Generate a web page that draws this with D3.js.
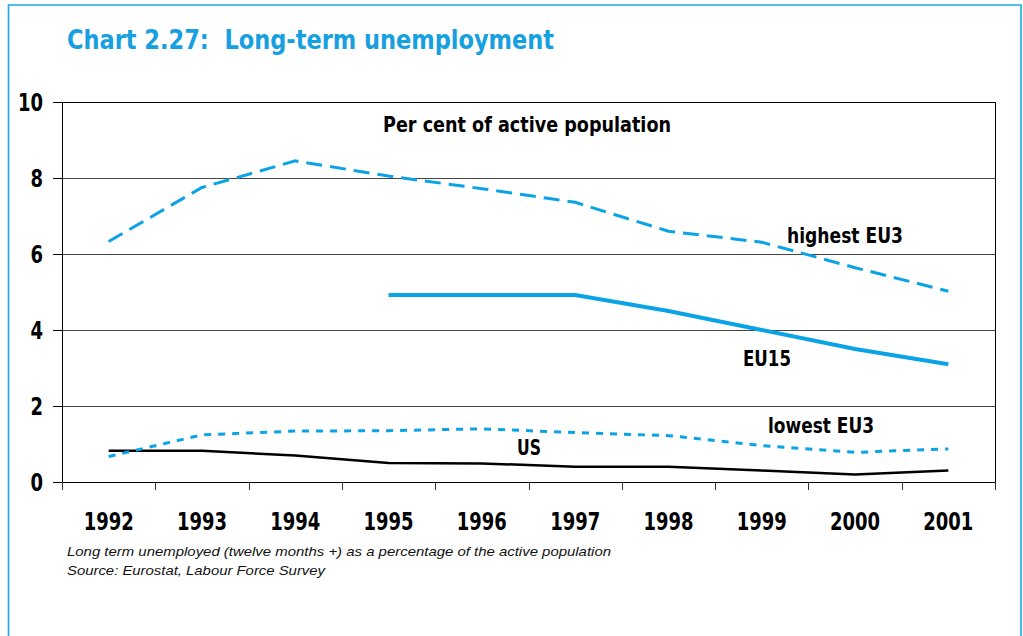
<!DOCTYPE html>
<html>
<head>
<meta charset="utf-8">
<script src="https://cdn.jsdelivr.net/npm/d3@7"></script>
<style>
  body { margin: 0; background: #fff; }
  svg { display: block; }
  .cond { font-family: "Liberation Sans Narrow", "DejaVu Sans Condensed", "Arial Narrow", sans-serif; font-weight: bold; }
  .foot { font-family: "Liberation Sans", Arial, sans-serif; font-style: italic; font-size: 13px; fill: #111; }
</style>
</head>
<body>
<div id="chart"></div>
<script>
// chart data
const years = ["1992", "1993", "1994", "1995", "1996", "1997", "1998", "1999", "2000", "2001"]
const highestEU3 = [6.33, 7.75, 8.45, 8.05, 7.72, 7.36, 6.6, 6.31, 5.64, 5.02]
const eu15 = [null, null, null, 4.92, 4.92, 4.92, 4.5, 4.0, 3.5, 3.1]
const lowestEU3 = [0.67, 1.24, 1.34, 1.35, 1.4, 1.3, 1.22, 0.96, 0.78, 0.87]
const us = [0.82, 0.82, 0.7, 0.5, 0.49, 0.4, 0.4, 0.3, 0.2, 0.3]
const yTicks = [0, 2, 4, 6, 8, 10]

const blue = "#0aa3e6"
const W = 1023, H = 636

const svg = d3.select("#chart").append("svg")
  .attr("width", W)
  .attr("height", H)

// outer frame (open at the bottom, runs off the page)
svg.append("path")
  .attr("d", "M8.5,640 V5 H1021 V640")
  .attr("fill", "none")
  .attr("stroke", "#1aa6ea")
  .attr("stroke-width", 1.6)

svg.append("text")
  .attr("class", "cond")
  .attr("x", 67).attr("y", 49)
  .attr("fill", "#16a0e0")
  .attr("font-size", 27)
  .attr("textLength", 487)
  .attr("lengthAdjust", "spacingAndGlyphs")
  .style("white-space", "pre")
  .text("Chart 2.27:  Long-term unemployment")

// plot area
const plotL = 62, plotR = 995, plotT = 102, plotB = 482

const x = d3.scaleBand().domain(years).range([plotL, plotR]).paddingInner(0).paddingOuter(0)
const xEdge = d3.scaleLinear().domain([0, years.length]).range([plotL, plotR])
const y = d3.scaleLinear().domain([0, 10]).range([plotB, plotT])
const cx = d => x(d) + x.bandwidth() / 2

// gridlines
svg.append("g").selectAll("line")
  .data(yTicks.filter(d => d > 0))
  .enter().append("line")
  .attr("x1", plotL).attr("x2", plotR)
  .attr("y1", d => y(d)).attr("y2", d => y(d))
  .attr("stroke", d => d == 10 ? "#000" : "#444")
  .attr("stroke-width", 1)
  .attr("shape-rendering", "crispEdges")

svg.append("line")
  .attr("x1", plotR).attr("x2", plotR)
  .attr("y1", plotT).attr("y2", plotB)
  .attr("stroke", "#000")
  .attr("shape-rendering", "crispEdges")

// y axis
const yAxis = svg.append("g")
  .attr("transform", "translate(" + plotL + ",0)")
  .call(d3.axisLeft(y).tickValues(yTicks).tickSize(9).tickPadding(10).tickSizeOuter(0))
yAxis.select(".domain").attr("stroke", "#000")
yAxis.selectAll("line").attr("stroke", "#000").attr("shape-rendering", "crispEdges")
yAxis.selectAll("text")
  .attr("class", "cond")
  .attr("font-size", 25)
  .attr("fill", "#000")
  .attr("dy", "0.34em")
  .attr("textLength", d => String(d).length * 12.5)
  .attr("lengthAdjust", "spacingAndGlyphs")

// x axis: ticks at category edges, labels at centres
const xTickAxis = svg.append("g")
  .attr("transform", "translate(0," + plotB + ")")
  .call(d3.axisBottom(xEdge).tickValues(d3.range(years.length + 1)).tickFormat("").tickSize(8).tickSizeOuter(0))
xTickAxis.select(".domain").attr("stroke", "#000")
xTickAxis.selectAll("line").attr("stroke", "#333").attr("shape-rendering", "crispEdges")

const xLab = svg.append("g")
  .attr("transform", "translate(0," + plotB + ")")
  .call(d3.axisBottom(x).tickSize(0))
xLab.select(".domain").remove()
xLab.selectAll("text")
  .attr("class", "cond")
  .attr("font-size", 25)
  .attr("fill", "#000")
  .attr("y", 48)
  .attr("dy", 0)
  .attr("textLength", 50)
  .attr("lengthAdjust", "spacingAndGlyphs")

// series
const line = d3.line()
  .defined(d => d[1] != null)
  .x(d => cx(d[0]))
  .y(d => y(d[1]))

const pairs = vals => years.map((yr, i) => [yr, vals[i]])

svg.append("path").datum(pairs(us))
  .attr("d", line).attr("fill", "none")
  .attr("stroke", "#000").attr("stroke-width", 2.5)

svg.append("path").datum(pairs(lowestEU3))
  .attr("d", line).attr("fill", "none")
  .attr("stroke", blue).attr("stroke-width", 3)
  .attr("stroke-dasharray", "7,7")

svg.append("path").datum(pairs(eu15))
  .attr("d", line).attr("fill", "none")
  .attr("stroke", blue).attr("stroke-width", 4)

svg.append("path").datum(pairs(highestEU3))
  .attr("d", line).attr("fill", "none")
  .attr("stroke", blue).attr("stroke-width", 3)
  .attr("stroke-dasharray", "16,8")

// in-chart labels
const labels = [
  { t: "Per cent of active population", x: 383, y: 132, w: 288 },
  { t: "highest EU3", x: 787, y: 243, w: 116 },
  { t: "EU15", x: 743, y: 366, w: 48 },
  { t: "lowest EU3", x: 768, y: 433, w: 106 },
  { t: "US", x: 517, y: 455, w: 24 }
]
svg.append("g").selectAll("text")
  .data(labels)
  .enter().append("text")
  .attr("class", "cond")
  .attr("font-size", 21)
  .attr("fill", "#000")
  .attr("x", d => d.x).attr("y", d => d.y)
  .attr("textLength", d => d.w)
  .attr("lengthAdjust", "spacingAndGlyphs")
  .text(d => d.t)

// footnote
svg.append("text").attr("class", "foot")
  .attr("x", 67).attr("y", 556)
  .attr("textLength", 544).attr("lengthAdjust", "spacingAndGlyphs")
  .text("Long term unemployed (twelve months +) as a percentage of the active population")
svg.append("text").attr("class", "foot")
  .attr("x", 67).attr("y", 575)
  .attr("textLength", 258).attr("lengthAdjust", "spacingAndGlyphs")
  .text("Source: Eurostat, Labour Force Survey")
</script>
</body>
</html>
